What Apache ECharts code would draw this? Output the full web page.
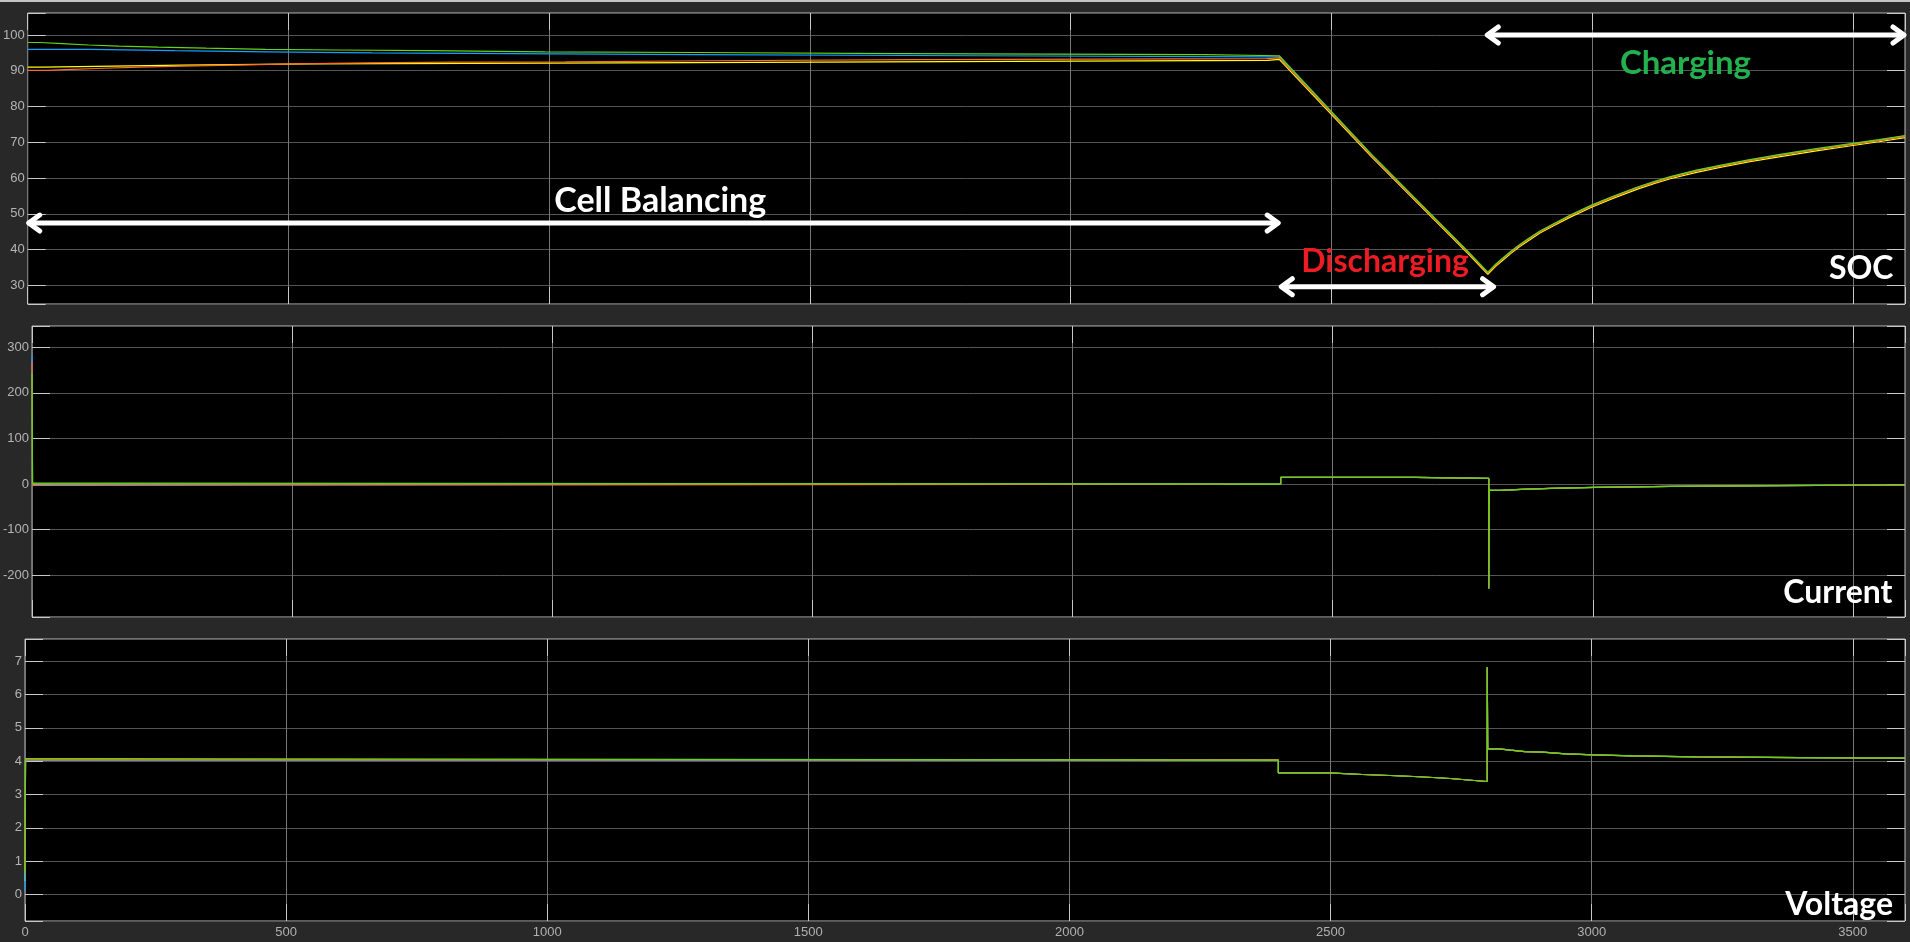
<!DOCTYPE html>
<html><head><meta charset="utf-8">
<script src="https://cdn.jsdelivr.net/npm/echarts@6.0.0/dist/echarts.min.js"></script>
<style>html,body{margin:0;padding:0;background:#282828;overflow:hidden}#c{width:1910px;height:942px}</style>
</head><body><div id="c"></div><script>
// ---------- DATA ----------
const seriesNames = ['Cell 1', 'Cell 2', 'Cell 3', 'Cell 4'];
const xTicks = [0, 500, 1000, 1500, 2000, 2500, 3000, 3500];

// SOC (%) - balancing phase, step changes [time, value]
const socBalYellow = [[0,91.0],[31,91.3],[163,91.6],[297,91.9],[542,92.2],[1146,92.5],[1641,92.9],[2378,93.2]];
const socBalBlue   = [[0,96.0],[122,95.6],[282,95.3],[457,95.0],[661,94.8],[927,94.5],[1280,94.2],[1820,93.9]];
const socBalOrange = [[0,90.1],[36,90.4],[85,90.7],[146,91.0],[216,91.3],[297,91.6],[396,91.9],[510,92.2],[650,92.4],[820,92.5],[1031,92.8],[1310,93.1],[1703,93.4],[2375,93.6]];
const socBalGreen  = [[0,97.9],[24,97.6],[66,97.2],[117,96.9],[175,96.6],[250,96.3],[342,96.0],[456,95.8],[594,95.6],[770,95.3],[992,95.1],[1282,94.8],[1676,94.5],[2257,94.2]];
// SOC (%) - discharge and charge phase [time, value]
const socRunTime   = [2400, 2577, 2761, 2800, 2815, 2831, 2845, 2860, 2880, 2900, 2927, 2960, 3000, 3040, 3087, 3120, 3150, 3200, 3250, 3300, 3361, 3430, 3500, 3550, 3600];
const socRunYellow = [93.2, 65.9, 39.0, 33.1, 35.3, 37.3, 39.0, 40.7, 42.7, 44.6, 46.7, 49.2, 51.9, 54.3, 56.9, 58.5, 59.8, 61.6, 63.1, 64.5, 66.0, 67.6, 69.1, 70.15, 71.3];
const socRunBlue   = [93.9, 66.5, 39.5, 33.55, 35.75, 37.75, 39.45, 41.15, 43.15, 45.05, 47.15, 49.65, 52.35, 54.75, 57.35, 58.95, 60.25, 62.05, 63.55, 64.95, 66.45, 68.05, 69.55, 70.6, 71.75];
const socRunOrange = [93.6, 66.2, 39.3, 33.4, 35.6, 37.6, 39.3, 41.0, 43.0, 44.9, 47.0, 49.5, 52.2, 54.6, 57.2, 58.8, 60.1, 61.9, 63.4, 64.8, 66.3, 67.9, 69.4, 70.45, 71.6];
const socRunGreen  = [94.2, 66.6, 39.6, 33.7, 35.9, 37.9, 39.6, 41.3, 43.3, 45.2, 47.3, 49.8, 52.5, 54.9, 57.5, 59.1, 60.4, 62.2, 63.7, 65.1, 66.6, 68.2, 69.7, 70.75, 71.9];

// Current (A) - step changes [time, value]
const curStartYellow = [[0,0]];
const curStartBlue   = [[0,283],[1,0]];
const curStartOrange = [[0,270],[1,-3],[55,0]];
const curStartGreen  = [[0,243],[1,2],[191,0]];
const curShared = [[2400,14.7],[2658,12.5],[2800,-229],[2801,-13.8],[2822,-11.7],[2862,-9.5],[2919,-7.3],[3004,-5.1],[3150,-3.5],[3350,-2.0],[3600,-2.0]];

// Voltage (V) - step changes [time, value]
const voltStartYellow = [[0,0.4],[1,4.03]];
const voltStartBlue   = [[0,0.1],[1,4.02]];
const voltStartOrange = [[0,0.68],[1,4.04]];
const voltStartGreen  = [[0,0.68],[1,4.08],[143,4.03]];
const voltShared = [[2400,3.65],[2497,3.60],[2561,3.57],[2614,3.54],[2659,3.51],[2696,3.48],[2729,3.45],[2752,3.42],[2775,3.39],[2800,6.82],[2801,4.37],[2822,4.33],[2845,4.29],[2872,4.27],[2906,4.22],[2950,4.19],[3005,4.16],[3078,4.13],[3200,4.11],[3400,4.09],[3600,4.09]];

// ---------- BUILD ----------
function stepToLine(steps){
  const out=[];
  steps.forEach((p,i)=>{ if(i>0) out.push([p[0], steps[i-1][1]]); out.push([p[0],p[1]]); });
  return out;
}
function zipRun(vals){ return socRunTime.map((t,i)=>[t, vals[i]]); }
const colors = ['#FFFF11','#139FFF','#FF6929','#64D413'];
const socData = [
  stepToLine(socBalYellow).concat(zipRun(socRunYellow)),
  stepToLine(socBalBlue).concat(zipRun(socRunBlue)),
  stepToLine(socBalOrange).concat(zipRun(socRunOrange)),
  stepToLine(socBalGreen).concat(zipRun(socRunGreen))
];
const curData = [curStartYellow, curStartBlue, curStartOrange, curStartGreen].map(s=>stepToLine(s.concat(curShared)));
const voltData = [voltStartYellow, voltStartBlue, voltStartOrange, voltStartGreen].map(s=>stepToLine(s.concat(voltShared)));

const grids = [
  {left:25, right:5, top:13, height:291},
  {left:25, right:5, top:326, height:291},
  {left:25, right:5, top:639, height:282}
].map(g=>Object.assign(g,{show:true, backgroundColor:'#000000', borderColor:'#bdbdbd', borderWidth:1}));

const yExt = [
  {min:24.77, max:106.15, step:10},
  {min:-291.4, max:346.7, step:100},
  {min:-0.80, max:7.67, step:1}
];
const labelFont = 'Arial, "Liberation Sans", sans-serif';
const tickStyle = {color:'#c8c8c8', width:1};
const xAxes=[], yAxes=[];
for(let i=0;i<3;i++){
  const xBase = {type:'value', gridIndex:i, min:0, max:3600, interval:500, axisLine:{show:false, onZero:false}};
  // main x axis: labels + vertical grid lines
  xAxes.push(Object.assign({}, xBase, {position:'bottom',
    axisTick:{show:false},
    axisLabel:{show:i===2, color:'#b0b0b0', fontSize:13, fontFamily:labelFont, margin:5, showMaxLabel:false,
      formatter:v=>xTicks.indexOf(v)>=0?String(v):''},
    splitLine:{show:true, lineStyle:{color:'#777777', width:1}}}));
  // inner tick marks, bottom and top
  xAxes.push(Object.assign({}, xBase, {position:'bottom', offset:-17, axisLabel:{show:false}, splitLine:{show:false},
    axisTick:{show:true, inside:false, length:17, lineStyle:tickStyle}}));
  xAxes.push(Object.assign({}, xBase, {position:'top', offset:-17, axisLabel:{show:false}, splitLine:{show:false},
    axisTick:{show:true, inside:false, length:17, lineStyle:tickStyle}}));
  const e=yExt[i];
  const yBase = {type:'value', gridIndex:i, min:e.min, max:e.max, minInterval:e.step, maxInterval:e.step, axisLine:{show:false, onZero:false}};
  yAxes.push(Object.assign({}, yBase, {position:'left',
    axisTick:{show:false},
    axisLabel:{color:'#b4b4b4', fontSize:13, fontFamily:labelFont, margin:3, showMinLabel:false, showMaxLabel:false},
    splitLine:{show:true, lineStyle:{color:'#555555', width:1}}}));
  yAxes.push(Object.assign({}, yBase, {position:'left', offset:-18, axisLabel:{show:false}, splitLine:{show:false},
    axisTick:{show:true, inside:false, length:18, lineStyle:tickStyle}}));
  yAxes.push(Object.assign({}, yBase, {position:'right', offset:-18, axisLabel:{show:false}, splitLine:{show:false},
    axisTick:{show:true, inside:false, length:18, lineStyle:tickStyle}}));
}
const series=[];
[socData, curData, voltData].forEach((set,gi)=>{
  set.forEach((d,k)=>{
    series.push({type:'line', name:seriesNames[k], xAxisIndex:gi*3, yAxisIndex:gi*3, data:d,
      showSymbol:false, symbol:'none', silent:true, color:colors[k],
      lineStyle:{width:1.2, color:colors[k]}});
  });
});

const chart = echarts.init(document.getElementById('c'), null, {renderer:'canvas'});
chart.setOption({backgroundColor:'#282828', animation:false, grid:grids, xAxis:xAxes, yAxis:yAxes, series:series});

// ---------- ANNOTATIONS (anchored in data coordinates) ----------
function px(gi, x, y){ return chart.convertToPixel({gridIndex:gi}, [x,y]); }
function dblArrow(gi, x1, x2, y){
  const a=px(gi,x1,y), b=px(gi,x2,y);
  const st={stroke:'#ffffff', lineWidth:5, lineCap:'round', lineJoin:'round', fill:null};
  return [
    {type:'polyline', shape:{points:[[a[0]+2,a[1]],[b[0]-2,b[1]]]}, style:st, z:100},
    {type:'polyline', shape:{points:[[a[0]+12,a[1]-8],[a[0]+1,a[1]],[a[0]+12,a[1]+8]]}, style:st, z:100},
    {type:'polyline', shape:{points:[[b[0]-12,b[1]-8],[b[0]-1,b[1]],[b[0]-12,b[1]+8]]}, style:st, z:100}
  ];
}
function label(gi, x, y, text, color, size, align){
  const p=px(gi,x,y);
  return {type:'text', x:p[0], y:p[1], z:101,
    style:{text:text, fill:color, font:'bold '+size+'px Lato', align:align||'center', verticalAlign:'middle'}};
}
const g=[{type:'rect', shape:{x:0,y:0,width:1910,height:2}, style:{fill:'#c4c4c4'}, z:0}];
g.push(...dblArrow(0, 0, 2400, 47.4));
g.push(...dblArrow(0, 2402, 2813, 29.6));
g.push(...dblArrow(0, 2797, 3600, 100));
g.push(label(0, 1213, 53.6, 'Cell Balancing', '#ffffff', 34));
g.push(label(0, 3179, 92.2, 'Charging', '#22B14C', 33));
g.push(label(0, 2603, 36.7, 'Discharging', '#ED1C24', 32));
g.push(label(0, 3578, 34.6, 'SOC', '#ffffff', 32, 'right'));
g.push(label(1, 3576, -239, 'Current', '#ffffff', 32, 'right'));
g.push(label(2, 3577, -0.3, 'Voltage', '#ffffff', 32, 'right'));
chart.setOption({graphic:g});
</script></body></html>
